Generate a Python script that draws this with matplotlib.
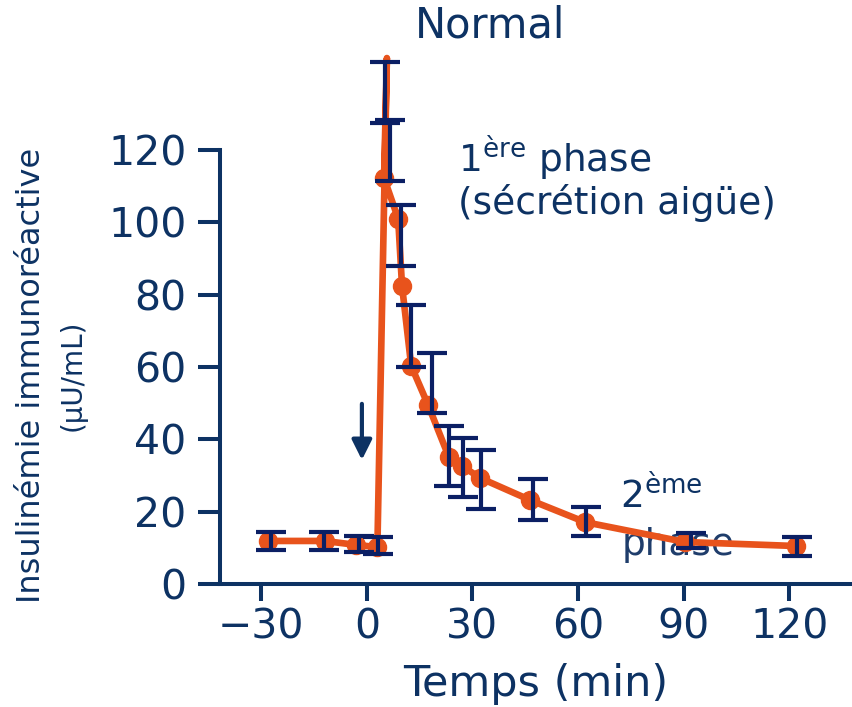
import matplotlib
matplotlib.use("Agg")
import matplotlib.pyplot as plt

# Mean insulin curve (time in min, µU/mL)
temps = [-28, -12, -3, 3, 5.7, 4.9, 8.9, 10.0, 12.6, 17.4, 23.3, 27.1,
         32.2, 46.4, 62.0, 90.4, 121.9]
insuline = [11.9, 11.9, 10.8, 10.2, 145.4, 112.2, 101.0, 82.4, 60.3, 49.5,
            35.1, 32.6, 29.3, 23.2, 17.1, 11.6, 10.5]
pic = 4  # the peak has no dot

# Error bars: time, low end, high end
err_temps = [-27.2, -12.2, -2.2, 3.2, 5.3, 6.6, 9.7, 12.5, 18.4, 23.3, 27.3,
             32.5, 47.2, 62.2, 92.0, 122.3]
err_bas = [9.4, 9.4, 8.8, 8.3, 127.5, 111.5, 87.9, 60.0, 47.2, 27.1, 24.0,
           20.7, 17.7, 13.4, 9.9, 7.8]
err_haut = [14.4, 14.4, 13.3, 13.0, 144.3, 128.3, 104.8, 77.1, 63.8, 43.8,
            40.4, 37.0, 29.0, 21.4, 14.2, 12.9]

x_ticks = [-30, 0, 30, 60, 90, 120]
y_ticks = [0, 20, 40, 60, 80, 100, 120]

navy = "#0d3263"
bar_navy = "#0b1f64"
orange = "#e8531c"

fig = plt.figure(figsize=(8.52, 7.07), dpi=100)
ax = fig.add_axes([220 / 852, 123 / 707, 632 / 852, 542.6 / 707])

# mean curve
dots = [i for i in range(len(temps)) if i != pic]
ax.plot(temps, insuline, color=orange, lw=4.8, marker="o", ms=13,
        markevery=dots, solid_joinstyle="round", solid_capstyle="round",
        zorder=3)

# error bars
centres = [(b + h) / 2 for b, h in zip(err_bas, err_haut)]
yerr = [[c - b for c, b in zip(centres, err_bas)],
        [h - c for c, h in zip(centres, err_haut)]]
ax.errorbar(err_temps, centres, yerr=yerr, fmt="none", ecolor=bar_navy,
            elinewidth=3, capsize=10.5, capthick=3, zorder=4)

# glucose injection arrow
ax.annotate("", xy=(-1.4, 34.3), xytext=(-1.4, 49.8),
            arrowprops=dict(arrowstyle="-|>,head_length=0.6,head_width=0.3",
                            lw=3, color=navy, mutation_scale=20,
                            shrinkA=0, shrinkB=0))

# phase labels
ax.text(26, 117.8, r"1$^{\mathrm{ère}}$ phase", fontsize=27, color=navy,
        va="center", ha="left")
ax.text(25.8, 105.3, "(sécrétion aigüe)", fontsize=27, color=navy,
        va="center", ha="left")
ax.text(72, 24.6, r"2$^{\mathrm{ème}}$", fontsize=27, color=navy,
        va="center", ha="left", zorder=1)
ax.text(72.4, 10.8, "phase", fontsize=27, color="#1f3d6b",
        va="center", ha="left", zorder=1)

ax.set_xlim(-41.7, 137.8)
ax.set_ylim(0, 150)
ax.set_xticks(x_ticks)
ax.set_yticks(y_ticks)

for side in ["top", "right"]:
    ax.spines[side].set_visible(False)
for side in ["left", "bottom"]:
    ax.spines[side].set_color(navy)
    ax.spines[side].set_linewidth(2.9)
ax.spines["left"].set_bounds(0, 120)

ax.tick_params(axis="y", direction="out", length=16, width=2.9, pad=8,
               labelsize=29.5, colors=navy)
ax.tick_params(axis="x", direction="out", length=12, width=2.9, pad=5,
               labelsize=29.5, colors=navy)

ax.set_xlabel("Temps (min)", fontsize=31, color=navy, labelpad=11)
fig.text(32 / 852, 1 - 375 / 707, "Insulinémie immunoréactive", rotation=90,
         fontsize=23, color=navy, ha="center", va="center")
fig.text(73 / 852, 1 - 375 / 707, "(µU/mL)", rotation=90,
         fontsize=20, color=navy, ha="center", va="center")
fig.text(490 / 852, 1 - 25 / 707, "Normal", fontsize=30, color=navy,
         ha="center", va="center")

fig.savefig("out.png", dpi=100)
